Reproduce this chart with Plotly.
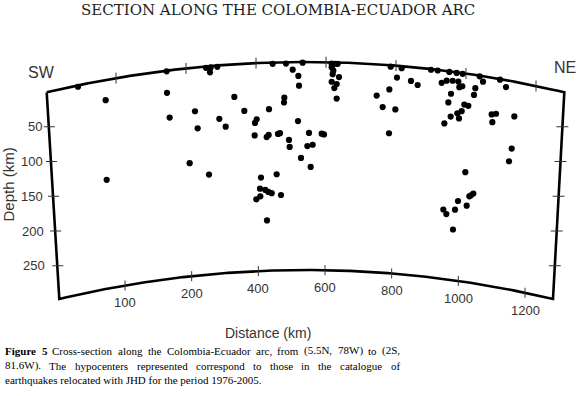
import numpy as np
import plotly.graph_objects as go

# ---------------- data ----------------
# hypocentres: distance along the section (km) and depth below the surface line (km)
distance_km = [
    -141, -58, -55, 125, 126, 134, 210, 218, 194, 243,
    255, 257, 277, 443, 483, 503, 520, 522, 328, 283,
    302, 358, 432, 478, 477, 395, 390, 519, 389, 425,
    431, 459, 465, 492, 494, 528, 252, 455, 408, 405,
    421, 430, 440, 468, 406, 394, 426, 533, 620, 630,
    638, 620, 625, 623, 642, 620, 635, 628, 635, 552,
    590, 597, 547, 563, 557, 755, 793, 773, 811, 792,
    797, 816, 830, 858, 878, 918, 938, 973, 995, 1013,
    1064, 1074, 950, 965, 983, 1000, 1003, 1012, 1051, 978,
    1047, 970, 1018, 1030, 1010, 997, 1002, 977, 958, 1100,
    1113, 1102, 1021, 999, 1025, 1033, 1038, 1045, 955, 964,
    990, 984, 1125, 1143, 1168, 1160, 1152,
]
depth_km = [
    2, 29, 144, 1, 32, 68, 63, 88, 137, 2,
    9, 2, 2, 2, 2, 11, 20, 34, 47, 77,
    89, 68, 67, 51, 58, 81, 86, 85, 104, 107,
    104, 103, 102, 112, 122, 138, 156, 161, 165, 181,
    183, 186, 188, 191, 192, 196, 227, 1, 2, 2,
    2, 7, 12, 17, 21, 28, 31, 37, 52, 102,
    103, 104, 121, 119, 151, 45, 35, 61, 63, 98,
    2, 17, 3, 20, 25, 1, 1, 1, 1, 1,
    1, 8, 18, 14, 13, 13, 21, 19, 19, 32,
    29, 45, 45, 46, 55, 59, 66, 65, 76, 53,
    51, 64, 142, 185, 190, 176, 174, 171, 200, 206,
    198, 227, 1, 10, 50, 97, 116,
]

depth_ticks = [50, 100, 150, 200, 250]
distance_tick_pos = [0, 200, 400, 600, 800, 1000, 1200]
distance_tick_text = ["100", "200", "400", "600", "800", "1000", "1200"]

title_text = "SECTION ALONG THE COLOMBIA-ECUADOR ARC"
x_title = "Distance (km)"
y_title = "Depth (km)"
left_label, right_label = "SW", "NE"
caption_lines = [
    "Figure 5 Cross-section along the Colombia-Ecuador arc, from (5.5N, 78W) to (2S,",
    "81.6W). The hypocenters represented correspond to those in the catalogue of",
    "earthquakes relocated with JHD for the period 1976-2005.",
]
caption_bold_words = 2  # "Figure 5"

# ---------------- geometry of the curved section frame ----------------
W, H = 577, 396
X0, KPX = 125.0, 3.0      # pixel of km 0, km per pixel
Y0, PXK = 92.0, 0.695     # pixel of depth 0, pixels per km depth


def k2px(k):
    return X0 + np.asarray(k, float) / KPX


def px2k(p):
    return (np.asarray(p, float) - X0) * KPX


def py2d(p):
    return (np.asarray(p, float) - Y0) / PXK


def d2py(d):
    return Y0 + np.asarray(d, float) * PXK


def top_py(px):
    px = np.asarray(px, float)
    return 62 + 1120 - np.sqrt(1120 ** 2 - (px - 305.5) ** 2)


def bot_py(px):
    px = np.asarray(px, float)
    return 270 + 1066 - np.sqrt(1066 ** 2 - (px - 306) ** 2)


def surf_d(k):
    return py2d(top_py(k2px(k)))


def base_d(k):
    return py2d(bot_py(k2px(k)))


TLx, TRx, BLx, BRx = 46.7, 564.3, 59.3, 553.0
TOPY, BOTY = 91.7, 299.0

kt = np.linspace(px2k(TLx), px2k(TRx), 300)
kb = np.linspace(px2k(BRx), px2k(BLx), 300)
frame_x = np.concatenate([kt, kb, [kt[0]]])
frame_y = np.concatenate([surf_d(kt), base_d(kb), [surf_d(kt[0])]])

tx, ty = [], []


def seg(px_a, py_a, px_b, py_b):
    tx.extend([float(px2k(px_a)), float(px2k(px_b)), None])
    ty.extend([float(py2d(py_a)), float(py2d(py_b)), None])


for t in distance_tick_pos:
    pb = float(k2px(t))
    yb = float(bot_py(pb))
    seg(pb, yb - 5, pb, yb + 5)
    pt = 305 + (pb - 305) * 1.05
    yt = float(top_py(pt))
    seg(pt, yt - 5.5, pt, yt + 5.5)

for d in depth_ticks:
    py = float(d2py(d))
    el = TLx + (BLx - TLx) * (py - TOPY) / (BOTY - TOPY)
    er = TRx + (BRx - TRx) * (py - TOPY) / (BOTY - TOPY)
    seg(el - 5, py, el + 6, py)
    seg(er - 6, py, er + 6, py)

pt_x = np.asarray(distance_km, float)
pt_y = np.asarray(depth_km, float) + surf_d(pt_x)

fig = go.Figure()
fig.add_trace(go.Scatter(x=frame_x, y=frame_y, mode="lines",
                         line=dict(color="black", width=2.6), hoverinfo="skip"))
fig.add_trace(go.Scatter(x=tx, y=ty, mode="lines",
                         line=dict(color="#333333", width=1), hoverinfo="skip"))
fig.add_trace(go.Scatter(x=pt_x, y=pt_y, mode="markers",
                         marker=dict(color="black", size=6.2, line=dict(width=0))))

SANS = "Liberation Sans, Arial, sans-serif"
SERIF = "Liberation Serif, Times New Roman, serif"
anns = []


def ann(text, px, py, size, family=SANS, color="#333333", xa="center", ya="middle", angle=0):
    anns.append(dict(text=text, x=px / W, y=1 - py / H, xref="paper", yref="paper",
                     xanchor=xa, yanchor=ya, showarrow=False, borderpad=0,
                     textangle=angle, font=dict(size=size, family=family, color=color)))


ann(title_text, 277.5, 0, 15, family="DejaVu Serif, serif", color="#222222", ya="top")
ann(left_label, 41, 72.5, 16)
ann(right_label, 565, 67, 16)
ann(x_title, 268, 333, 14)
ann(y_title, 8.5, 185, 15, angle=-90)

for t, lab in zip(distance_tick_pos, distance_tick_text):
    pb = float(k2px(t))
    ann(lab, pb, float(bot_py(pb)) + 17.5, 13)

for d in depth_ticks:
    py = float(d2py(d))
    ann(str(d), 43 + 0.02 * (py - 127), py, 13, xa="right")

# caption: justified like the original (Times metrics for word widths)
REG = {' ': 250, '(': 333, ')': 333, ',': 250, '-': 333, '.': 250,
       'A': 722, 'C': 667, 'D': 722, 'E': 611, 'F': 556, 'H': 722, 'J': 389, 'N': 722,
       'S': 556, 'T': 611, 'W': 944,
       'a': 444, 'b': 500, 'c': 444, 'd': 500, 'e': 444, 'f': 333, 'g': 500, 'h': 500,
       'i': 278, 'k': 500, 'l': 278, 'm': 778, 'n': 500, 'o': 500, 'p': 500, 'q': 500,
       'r': 333, 's': 389, 't': 278, 'u': 500, 'v': 500, 'w': 722, 'y': 500, 'x': 500}
for dg in "0123456789":
    REG[dg] = 500
BOLD = {'F': 611, 'i': 278, 'g': 500, 'u': 556, 'r': 444, 'e': 444, '5': 500}

CAP_FS = 11
CAP_L, CAP_R = 4.0, 399.0
baselines = [354.3, 369.3, 383.3]
for li, line in enumerate(caption_lines):
    cy = baselines[li] - 3.6
    words = line.split(" ")
    bold = [li == 0 and wi < caption_bold_words for wi in range(len(words))]
    if li == len(caption_lines) - 1:
        ann(line, CAP_L, cy, CAP_FS, family=SERIF, color="black", xa="left")
        continue
    widths = []
    for w, b in zip(words, bold):
        tab = BOLD if b else REG
        widths.append(sum(tab.get(c, 500) for c in w) * CAP_FS / 1000.0)
    gap = (CAP_R - CAP_L - sum(widths)) / (len(words) - 1)
    x = CAP_L
    for w, b, wd in zip(words, bold, widths):
        ann("<b>%s</b>" % w if b else w, x, cy, CAP_FS, family=SERIF, color="black", xa="left")
        x += wd + gap

fig.update_layout(
    width=W, height=H, margin=dict(l=0, r=0, t=0, b=0),
    paper_bgcolor="white", plot_bgcolor="white", showlegend=False,
    xaxis=dict(visible=False, range=[float(px2k(0)), float(px2k(W))]),
    yaxis=dict(visible=False, range=[float(py2d(H)), float(py2d(0))]),
    annotations=anns,
)

fig.write_html("out.html", config={"displayModeBar": False},
               post_script="document.body.style.margin='0';")
